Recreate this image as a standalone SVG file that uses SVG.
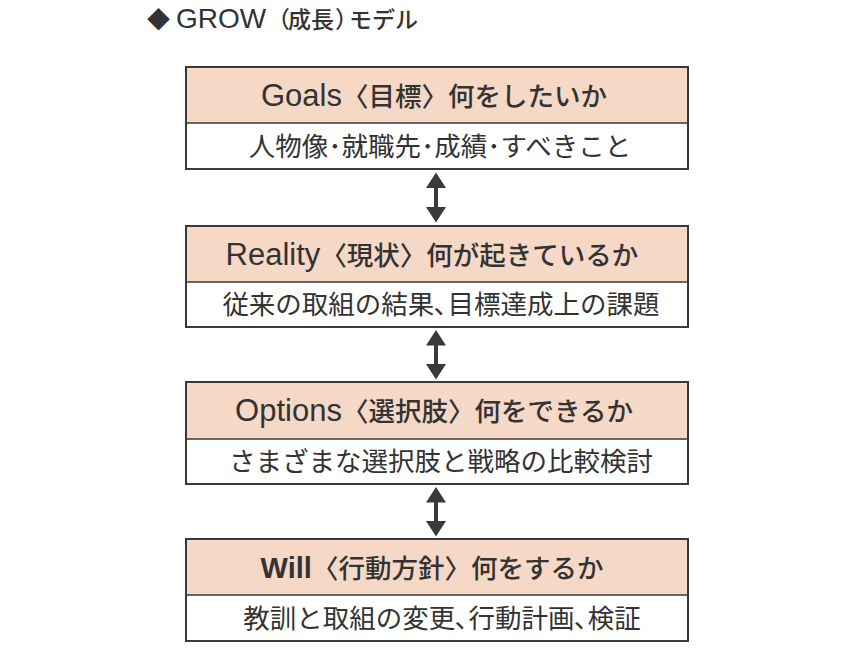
<svg xmlns="http://www.w3.org/2000/svg" width="864" height="650" viewBox="0 0 864 650">
<style>
.hd{fill:#f6d8c7;stroke:none}
.bd{fill:#ffffff;stroke:none}
.fr{fill:none;stroke:#3a3a3a;stroke-width:2}
.dv{stroke:#3a3a3a;stroke-width:1.5}
.cjk{font-family:"Noto Sans CJK JP","Noto Sans CJK SC",sans-serif;fill:#333333}
.lat{font-family:"Liberation Sans",Arial,sans-serif}
.ht{font-size:26.5px;text-anchor:middle;font-weight:500}
.ht .lat{font-size:31px;font-weight:normal}
.ht .latb{font-family:"Liberation Sans",Arial,sans-serif;font-size:29px;font-weight:bold}
.bt{font-size:26.5px;text-anchor:middle}
.np{letter-spacing:-9px}
.np2{letter-spacing:-14px}
.ar{fill:#3a3a3a}
</style>
<rect width="864" height="650" fill="#ffffff"/>
<g id="title">
<text class="cjk" y="28" font-size="23" font-weight="500"><tspan x="147">◆</tspan><tspan class="lat" x="176" font-size="28" font-weight="normal">GROW</tspan><tspan class="np2" x="267">（</tspan><tspan x="288">成長</tspan><tspan class="np" x="335">）</tspan><tspan x="349">モデル</tspan></text>
</g>
<g id="goals">
<rect class="hd" x="186" y="67" width="502" height="56"/>
<rect class="bd" x="186" y="123" width="502" height="46"/>
<line class="dv" x1="186" y1="123" x2="688" y2="123"/>
<rect class="fr" x="186" y="67" width="502" height="102"/>
<text class="cjk ht" x="434" y="106"><tspan class="lat">Goals</tspan>〈目標〉何をしたいか</text>
<text class="cjk bt" x="440" y="156">人物像･就職先･成績･すべきこと</text>
</g>
<g id="reality">
<rect class="hd" x="186" y="226" width="502" height="56"/>
<rect class="bd" x="186" y="282" width="502" height="45"/>
<line class="dv" x1="186" y1="282" x2="688" y2="282"/>
<rect class="fr" x="186" y="226" width="502" height="101"/>
<text class="cjk ht" x="432" y="265"><tspan class="lat">Reality</tspan>〈現状〉何が起きているか</text>
<text class="cjk bt" x="441" y="314">従来の取組の結果､目標達成上の課題</text>
</g>
<g id="options">
<rect class="hd" x="186" y="382" width="502" height="57"/>
<rect class="bd" x="186" y="439" width="502" height="45"/>
<line class="dv" x1="186" y1="439" x2="688" y2="439"/>
<rect class="fr" x="186" y="382" width="502" height="102"/>
<text class="cjk ht" x="434" y="421"><tspan class="lat">Options</tspan>〈選択肢〉何をできるか</text>
<text class="cjk bt" x="441" y="471">さまざまな選択肢と戦略の比較検討</text>
</g>
<g id="will">
<rect class="hd" x="186" y="539" width="502" height="56"/>
<rect class="bd" x="186" y="595" width="502" height="46"/>
<line class="dv" x1="186" y1="595" x2="688" y2="595"/>
<rect class="fr" x="186" y="539" width="502" height="102"/>
<text class="cjk ht" x="432" y="578"><tspan class="latb">Will</tspan>〈行動方針〉何をするか</text>
<text class="cjk bt" x="442" y="628">教訓と取組の変更､行動計画､検証</text>
</g>
<g id="connectors">
<g class="ar">
<path d="M436 172.5 L446 188 L438 188 L438 207 L446 207 L436 222.5 L426 207 L434 207 L434 188 L426 188 Z"/>
<path d="M436 330 L446 345.5 L438 345.5 L438 364 L446 364 L436 379.5 L426 364 L434 364 L434 345.5 L426 345.5 Z"/>
<path d="M436 487 L446 502.5 L438 502.5 L438 521 L446 521 L436 536.5 L426 521 L434 521 L434 502.5 L426 502.5 Z"/>
</g>
</g>
</svg>
